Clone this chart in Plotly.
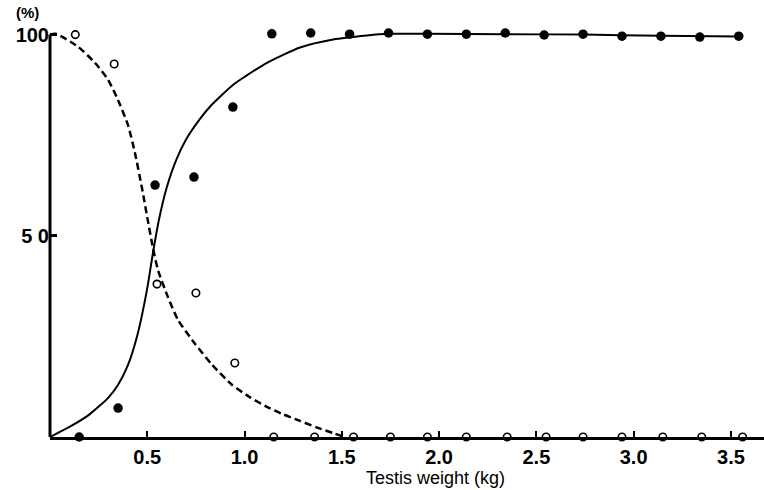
import plotly.graph_objects as go

# Filled circles (solid-line series)
filled_x = [0.15, 0.35, 0.54, 0.74, 0.94, 1.14, 1.34, 1.54, 1.74, 1.94, 2.14, 2.34,
            2.54, 2.74, 2.94, 3.14, 3.34, 3.54]
filled_y = [0.0, 7.2, 62.6, 64.6, 82.0, 100.2, 100.4, 100.1, 100.4, 100.1, 100.1, 100.4,
            99.9, 100.1, 99.6, 99.6, 99.4, 99.6]

# Open circles (dashed-line series)
open_x = [0.13, 0.33, 0.55, 0.75, 0.95, 1.15, 1.36, 1.56, 1.75, 1.94, 2.14, 2.35,
          2.55, 2.74, 2.94, 3.15, 3.35, 3.56]
open_y = [100.0, 92.7, 38.0, 35.8, 18.4, 0, 0, 0, 0, 0, 0, 0, 0, 0, 0, 0, 0, 0]

# Fitted solid curve
solid_x = [0.0, 0.1, 0.2, 0.3, 0.35, 0.4, 0.45, 0.5, 0.53, 0.56, 0.6, 0.65, 0.7,
           0.77, 0.83, 0.94, 1.0, 1.115, 1.285, 1.455, 1.629, 1.742, 1.94, 2.34,
           2.74, 3.14, 3.54]
solid_y = [0.0, 2.5, 5.5, 9.8, 13.0, 17.8, 25.5, 37.0, 46.0, 54.0, 62.0, 69.0, 74.0,
           79.0, 82.5, 87.5, 89.5, 93.0, 96.8, 98.8, 99.8, 100.2, 100.2, 100.1,
           100.0, 99.7, 99.5]

# Fitted dashed curve
dash_x = [0.0, 0.03, 0.144, 0.231, 0.298, 0.349, 0.401, 0.437, 0.473, 0.504, 0.529,
          0.555, 0.606, 0.658, 0.745, 0.832, 0.935, 1.03, 1.115, 1.2, 1.285, 1.37,
          1.454, 1.516]
dash_y = [100.0, 100.2, 97.0, 93.0, 88.8, 83.8, 77.5, 70.5, 61.8, 53.5, 47.0,
          41.5, 34.8, 29.1, 23.2, 18.0, 13.0, 9.8, 7.5, 5.6, 4.0, 2.4, 1.0, 0.0]

x_ticks = [0.5, 1.0, 1.5, 2.0, 2.5, 3.0, 3.5]
x_tick_text = ["0.5", "1.0", "1.5", "2.0", "2.5", "3.0", "3.5"]
y_ticks = [50, 100]
y_tick_text = ["5 0", "100"]

fig = go.Figure()
fig.add_trace(go.Scatter(x=solid_x, y=solid_y, mode="lines", line_shape="spline",
                         line=dict(color="black", width=2, smoothing=0.6), hoverinfo="skip"))
fig.add_trace(go.Scatter(x=dash_x, y=dash_y, mode="lines", line_shape="spline",
                         line=dict(color="black", width=2.5, dash="7px,4px", smoothing=0.6),
                         hoverinfo="skip"))
fig.add_trace(go.Scatter(x=filled_x, y=filled_y, mode="markers", cliponaxis=False,
                         marker=dict(symbol="circle", size=9.5, color="black")))
fig.add_trace(go.Scatter(x=open_x, y=open_y, mode="markers", cliponaxis=False,
                         marker=dict(symbol="circle", size=7.5, color="white",
                                     line=dict(color="black", width=1.6))))

# left axis line, from 0 to 100
fig.add_shape(type="line", xref="paper", yref="y", x0=0, x1=0, y0=0, y1=100,
              line=dict(color="black", width=3))

fig.add_annotation(text="(%)", xref="paper", yref="paper", x=-0.031, y=1.0 - 12/437,
                   xanchor="center", yanchor="middle", showarrow=False,
                   font=dict(family="Liberation Sans", size=15, color="black", weight="bold"))
fig.add_annotation(text="Testis weight (kg)", xref="x", yref="paper", x=1.98, y=-41/437,
                   xanchor="center", yanchor="middle", showarrow=False,
                   font=dict(family="Liberation Sans", size=18, color="black"))

fig.update_layout(
    width=764, height=490,
    margin=dict(l=50, r=0, t=0, b=53),
    paper_bgcolor="white", plot_bgcolor="white",
    showlegend=False,
    xaxis=dict(range=[0, 3.67], showgrid=False, zeroline=False, showline=True,
               linecolor="black", linewidth=2.5, tickvals=x_ticks, ticktext=x_tick_text,
               ticks="inside", ticklen=6, tickwidth=1.5, tickcolor="black",
               tickfont=dict(family="Liberation Sans", size=20, color="black", weight="bold")),
    yaxis=dict(range=[0, 108.6], showgrid=False, zeroline=False, showline=False,
               tickvals=y_ticks, ticktext=y_tick_text,
               ticks="inside", ticklen=7, tickwidth=2.5, tickcolor="black",
               tickfont=dict(family="Liberation Sans", size=20, color="black", weight="bold")),
)

fig.write_html("out.html")
